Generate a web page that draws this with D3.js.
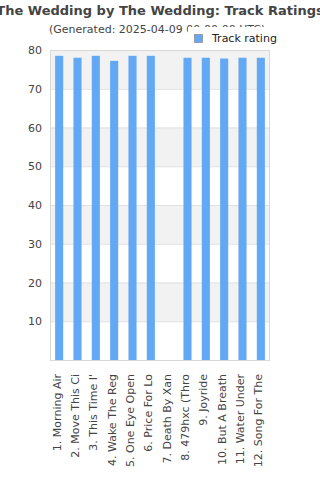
<!DOCTYPE html>
<html>
<head>
<meta charset="utf-8">
<script src="https://cdn.jsdelivr.net/npm/d3@7"></script>
<style>
	body { margin: 0; padding: 0; background: #fff; }
	svg { display: block; font-family: 'DejaVu Sans', sans-serif; }
</style>
</head>
<body>
<div id="chart"></div>
<script>
var tracks = [
	'1. Morning Air', '2. Move This Ci', "3. This Time I'", '4. Wake The Reg',
	'5. One Eye Open', '6. Price For Lo', '7. Death By Xan', '8. 479hxc (Thro',
	'9. Joyride', '10. But A Breath', '11. Water Under', '12. Song For The'
];
var ratings = [78.5, 78, 78.5, 77.2, 78.5, 78.5, null, 78, 78, 77.8, 78, 78];
var yTicks = [10, 20, 30, 40, 50, 60, 70, 80];
var bands = [[10, 20], [30, 40], [50, 60], [70, 80]];

(function () {
	'use strict';

	var width = 320, height = 480,
			m = { top: 50, right: 50, bottom: 120, left: 50 };

	var svg = d3.select('#chart').append('svg')
							.attr('width', width)
							.attr('height', height);

	var x = d3.scaleBand()
						.domain(tracks)
						.range([m.left, width - m.right])
						.paddingInner(0.56)
						.paddingOuter(0.28);

	var y = d3.scaleLinear()
						.domain([0, 80])
						.range([height - m.bottom, m.top]);

	// striped background
	svg.append('g').selectAll('rect')
		 .data(bands).enter().append('rect')
		 .attr('x', m.left)
		 .attr('y', function (d) { return y(d[1]); })
		 .attr('width', width - m.left - m.right)
		 .attr('height', function (d) { return y(d[0]) - y(d[1]); })
		 .attr('fill', '#f2f2f2');

	// grid lines
	svg.append('g').selectAll('line')
		 .data(yTicks).enter().append('line')
		 .attr('x1', m.left).attr('x2', width - m.right)
		 .attr('y1', function (d) { return y(d) + 0.5; })
		 .attr('y2', function (d) { return y(d) + 0.5; })
		 .attr('stroke', '#e0e0e0');

	// bars
	svg.append('g').selectAll('rect')
		 .data(tracks.map(function (t, i) { return { name: t, value: ratings[i] }; })
								 .filter(function (d) { return d.value !== null; }))
		 .enter().append('rect')
		 .attr('x', function (d) { return x(d.name); })
		 .attr('y', function (d) { return y(d.value); })
		 .attr('width', x.bandwidth())
		 .attr('height', function (d) { return y(0) - y(d.value); })
		 .attr('fill', '#62a8f5');

	// frame
	svg.append('rect')
		 .attr('x', m.left + 0.5).attr('y', m.top + 0.5)
		 .attr('width', width - m.left - m.right - 1)
		 .attr('height', height - m.top - m.bottom)
		 .attr('fill', 'none')
		 .attr('stroke', '#d8d8d8');

	// y axis
	var yAxis = svg.append('g')
								 .attr('transform', 'translate(' + (m.left - 6) + ',0)')
								 .call(d3.axisLeft(y).tickValues(yTicks).tickSize(0).tickPadding(2));
	yAxis.select('.domain').remove();
	yAxis.selectAll('text')
			 .attr('fill', '#444')
			 .style('font-size', '11px')
			 .style('font-family', 'DejaVu Sans');

	// x axis
	var xAxis = svg.append('g')
								 .attr('transform', 'translate(0,' + (height - m.bottom) + ')')
								 .call(d3.axisBottom(x).tickSize(0).tickPadding(0));
	xAxis.select('.domain').remove();
	xAxis.selectAll('text')
			 .attr('fill', '#444')
			 .style('font-size', '11px')
			 .style('font-family', 'DejaVu Sans')
			 .attr('text-anchor', 'end')
			 .attr('dy', '0.35em')
			 .attr('transform', 'translate(-2.5,14) rotate(-90)')
			 .attr('x', 0).attr('y', 0);

	// titles
	svg.append('text')
		 .attr('x', 160).attr('y', 15)
		 .attr('text-anchor', 'middle')
		 .attr('fill', '#444')
		 .style('font-size', '13px')
		 .style('font-weight', 'bold')
		 .text('The Wedding by The Wedding: Track Ratings');

	svg.append('text')
		 .attr('x', 49).attr('y', 33)
		 .attr('fill', '#444')
		 .style('font-size', '11px')
		 .text('(Generated: 2025-04-09 00:00:00 UTC)');

	// legend
	var lg = svg.append('g');
	lg.append('rect')
		.attr('x', 188).attr('y', 27)
		.attr('width', 132).attr('height', 20)
		.attr('fill', '#fff');
	lg.append('rect')
		.attr('x', 194.5).attr('y', 34.5)
		.attr('width', 8).attr('height', 8)
		.attr('fill', '#62a8f5')
		.attr('stroke', '#888')
		.attr('stroke-width', 0.7);
	lg.append('text')
		.attr('x', 212).attr('y', 42)
		.attr('fill', '#222')
		.style('font-size', '11px')
		.text('Track rating');
})();
</script>
</body>
</html>
